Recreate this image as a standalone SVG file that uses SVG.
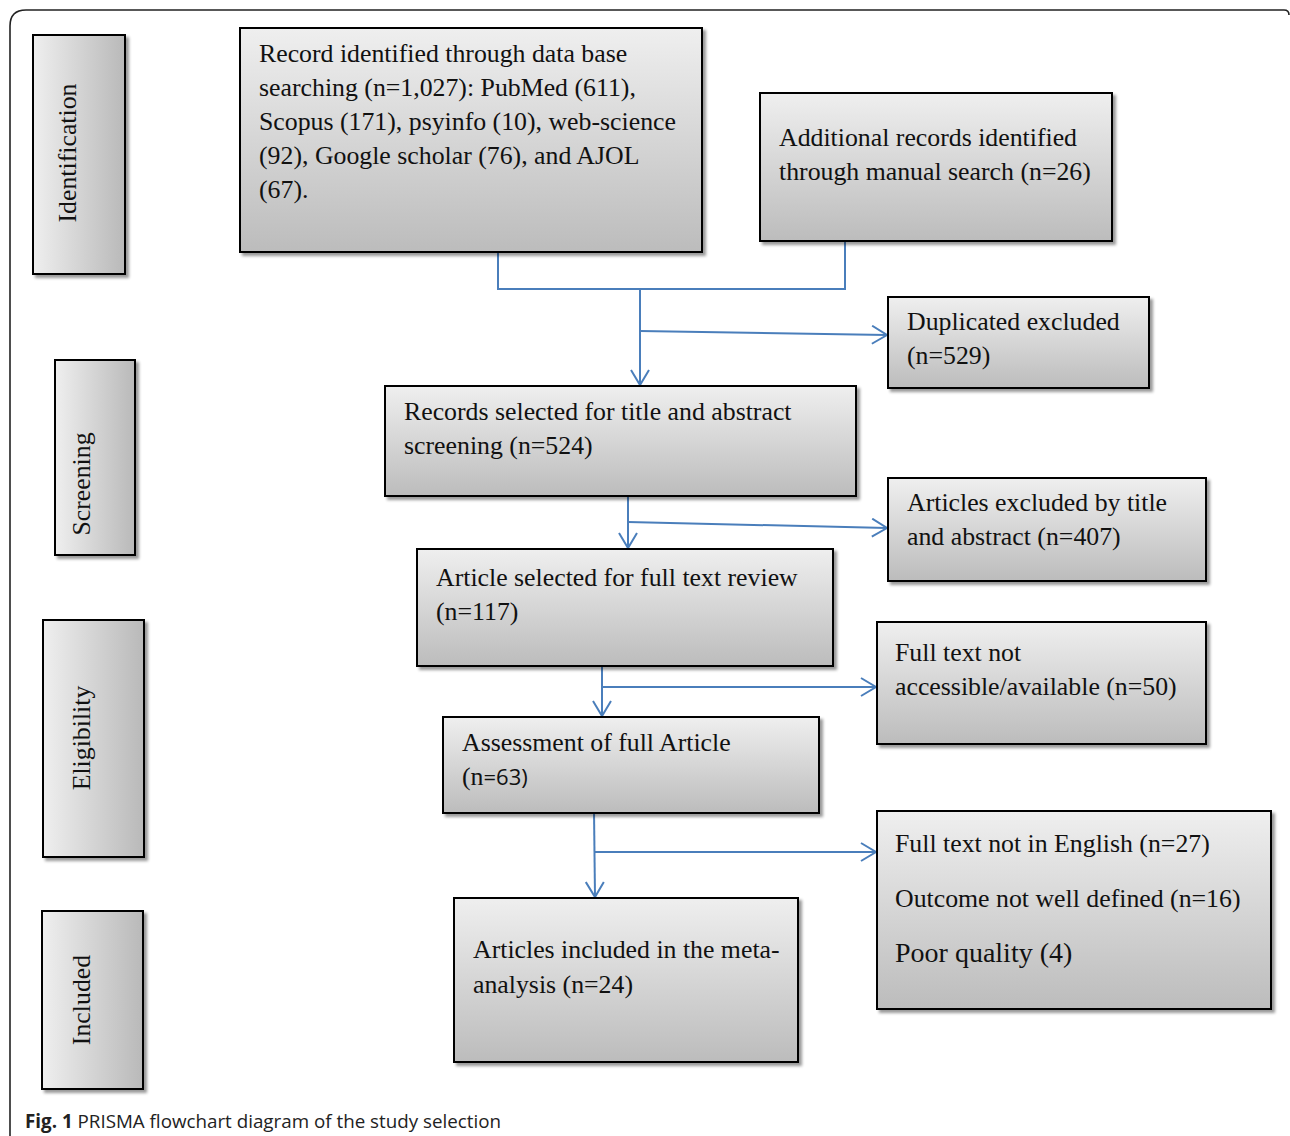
<svg xmlns="http://www.w3.org/2000/svg" width="1290" height="1136" viewBox="0 0 1290 1136">
<defs>
<linearGradient id="gv" x1="0" y1="0" x2="0" y2="1">
<stop offset="0" stop-color="#efefef"/>
<stop offset="1" stop-color="#bcbcbc"/>
</linearGradient>
<linearGradient id="gh" x1="0" y1="0" x2="1" y2="0">
<stop offset="0" stop-color="#efefef"/>
<stop offset="1" stop-color="#b9b9b9"/>
</linearGradient>
<filter id="sh" x="-10%" y="-10%" width="125%" height="125%">
<feDropShadow dx="3" dy="3" stdDeviation="1.8" flood-color="#000" flood-opacity="0.4"/>
</filter>
<marker id="ah" viewBox="0 0 20 20" refX="16" refY="10" markerWidth="20" markerHeight="20" markerUnits="userSpaceOnUse" orient="auto">
<path d="M1,1 L16,10 L1,19" fill="none" stroke="#4a7ebb" stroke-width="2"/>
</marker>
</defs>
<style>
.box{fill:url(#gv);stroke:#000;stroke-width:2;filter:url(#sh)}
.side{fill:url(#gh);stroke:#000;stroke-width:2;filter:url(#sh)}
.t{font-family:"Liberation Serif","Times New Roman",serif;font-size:25.8px;fill:#111}
.st{font-family:"Liberation Serif","Times New Roman",serif;font-size:25.8px;fill:#111;text-anchor:middle}
.c{fill:none;stroke:#4a7ebb;stroke-width:2}
.cap{font-family:"Open Sans","Noto Sans",sans-serif;font-size:18.8px;fill:#222}
</style>
<rect width="1290" height="1136" fill="#fff"/>
<path d="M10,1136 L10,26 Q10,10 26,10 L1284,10 Q1289,10 1289,15" fill="none" stroke="#222" stroke-width="1.6"/>

<g id="side-identification"><rect class="side" x="33" y="35" width="92" height="239"/><text class="st" transform="translate(76,153) rotate(-90)">Identification</text></g>
<g id="side-screening"><rect class="side" x="55" y="360" width="80" height="195"/><text class="st" transform="translate(90,484) rotate(-90)">Screening</text></g>
<g id="side-eligibility"><rect class="side" x="43" y="620" width="101" height="237"/><text class="st" transform="translate(90,738) rotate(-90)">Eligibility</text></g>
<g id="side-included"><rect class="side" x="42" y="911" width="101" height="178"/><text class="st" transform="translate(90,1000) rotate(-90)">Included</text></g>

<g id="connectors">
<polyline class="c" points="498,246 498,289 845,289 845,237"/>
<line class="c" x1="640" y1="289" x2="640" y2="385" marker-end="url(#ah)"/>
<line class="c" x1="640" y1="331" x2="887" y2="335" marker-end="url(#ah)"/>
<line class="c" x1="628" y1="491" x2="628" y2="548" marker-end="url(#ah)"/>
<line class="c" x1="628" y1="522" x2="887" y2="528" marker-end="url(#ah)"/>
<line class="c" x1="602" y1="662" x2="602" y2="716" marker-end="url(#ah)"/>
<line class="c" x1="602" y1="687" x2="876" y2="687" marker-end="url(#ah)"/>
<line class="c" x1="594" y1="811" x2="595" y2="897" marker-end="url(#ah)"/>
<line class="c" x1="594" y1="852" x2="876" y2="852" marker-end="url(#ah)"/>
</g>

<g id="n-records-identified"><rect class="box" x="240" y="28" width="462" height="224"/>
<text class="t"><tspan x="259" y="62">Record identified through data base</tspan><tspan x="259" y="96">searching (n=1,027): PubMed (611),</tspan><tspan x="259" y="130">Scopus (171), psyinfo (10), web-science</tspan><tspan x="259" y="164">(92), Google scholar (76), and AJOL</tspan><tspan x="259" y="198">(67).</tspan></text></g>
<g id="n-additional"><rect class="box" x="760" y="93" width="352" height="148"/>
<text class="t"><tspan x="779" y="146">Additional records identified</tspan><tspan x="779" y="180">through manual search (n=26)</tspan></text></g>
<g id="n-duplicated"><rect class="box" x="888" y="297" width="261" height="91"/>
<text class="t"><tspan x="907" y="330">Duplicated excluded</tspan><tspan x="907" y="364">(n=529)</tspan></text></g>
<g id="n-screening"><rect class="box" x="385" y="386" width="471" height="110"/>
<text class="t"><tspan x="404" y="420">Records selected for title and abstract</tspan><tspan x="404" y="454">screening (n=524)</tspan></text></g>
<g id="n-excluded-title"><rect class="box" x="888" y="478" width="318" height="103"/>
<text class="t"><tspan x="907" y="511">Articles excluded by title</tspan><tspan x="907" y="545">and abstract (n=407)</tspan></text></g>
<g id="n-fulltext"><rect class="box" x="417" y="549" width="416" height="117"/>
<text class="t"><tspan x="436" y="586">Article selected for full text review</tspan><tspan x="436" y="620">(n=117)</tspan></text></g>
<g id="n-not-accessible"><rect class="box" x="877" y="622" width="329" height="122"/>
<text class="t"><tspan x="895" y="661">Full text not</tspan><tspan x="895" y="695">accessible/available (n=50)</tspan></text></g>
<g id="n-assessment"><rect class="box" x="443" y="717" width="376" height="96"/>
<text class="t"><tspan x="462" y="751">Assessment of full Article</tspan><tspan x="462" y="785">(n</tspan><tspan style="font-family:'Open Sans','Noto Sans',sans-serif;font-size:22px">=63)</tspan></text></g>
<g id="n-excluded-reasons"><rect class="box" x="877" y="811" width="394" height="198"/>
<text class="t"><tspan x="895" y="852">Full text not in English (n=27)</tspan><tspan x="895" y="907">Outcome not well defined (n=16)</tspan><tspan x="895" y="962" style="font-size:28px">Poor quality (4)</tspan></text></g>
<g id="n-included"><rect class="box" x="454" y="898" width="344" height="164"/>
<text class="t"><tspan x="473" y="958">Articles included in the meta-</tspan><tspan x="473" y="993">analysis (n=24)</tspan></text></g>

<text class="cap" x="25" y="1128"><tspan font-weight="bold">Fig. 1</tspan> PRISMA flowchart diagram of the study selection</text>
</svg>
